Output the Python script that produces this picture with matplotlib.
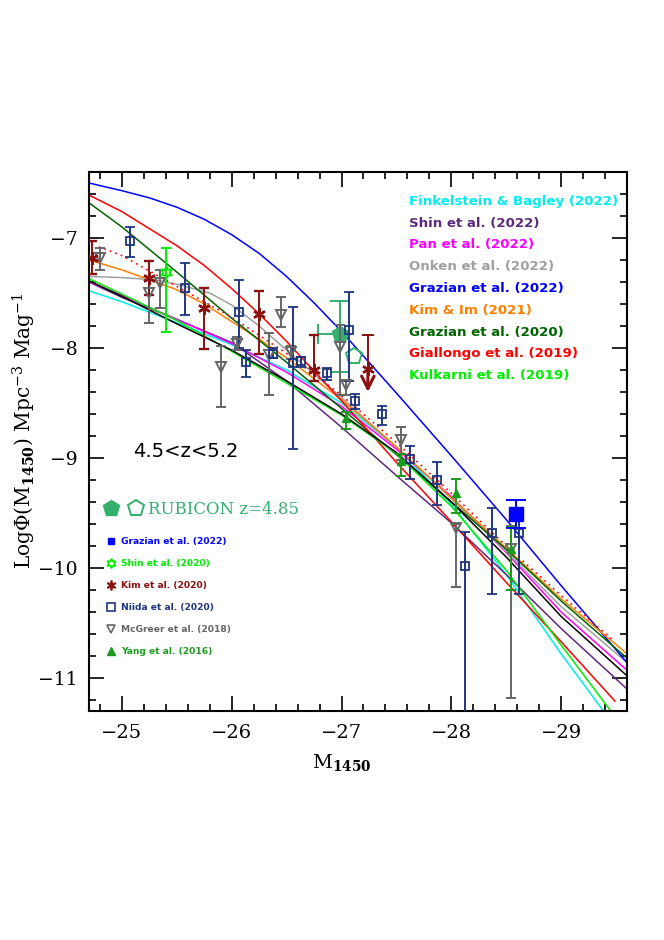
import numpy as np
import matplotlib
matplotlib.use("Agg")
import matplotlib.pyplot as plt
from matplotlib.ticker import MultipleLocator
from matplotlib.lines import Line2D
from matplotlib.legend_handler import HandlerTuple

plt.rcParams['mathtext.fontset'] = 'dejavuserif'

# ---- model curves ----
fink_M = [-24.7, -25.0, -25.5, -26.0, -26.5, -27.0, -27.5, -28.0, -28.5, -29.0, -29.40]
fink_phi = [-7.48, -7.58, -7.77, -7.97, -8.20, -8.50, -8.90, -9.42, -10.06, -10.78, -11.32]

shin22_M = [-24.7, -25.0, -25.5, -26.0, -26.5, -27.0, -27.5, -28.0, -28.5, -29.0, -29.6]
shin22_phi = [-7.40, -7.54, -7.74, -7.95, -8.30, -8.72, -9.16, -9.59, -10.06, -10.55, -11.10]

pan_M = [-24.7, -25.0, -25.5, -26.0, -26.5, -27.0, -27.5, -28.0, -28.5, -29.0, -29.6]
pan_phi = [-7.40, -7.52, -7.74, -7.96, -8.22, -8.53, -8.92, -9.35, -9.86, -10.40, -10.93]

onken_M = [-24.7, -25.0, -25.3, -25.5, -25.8, -26.0, -26.25, -26.5, -27.0, -27.5, -28.0,
           -28.5, -29.0, -29.6]
onken_phi = [-7.35, -7.36, -7.38, -7.42, -7.50, -7.61, -7.80, -8.02, -8.45, -8.90, -9.37,
             -9.85, -10.35, -10.86]

graz22_M = [-24.7, -25.0, -25.25, -25.5, -25.75, -26.0, -26.25, -26.5, -26.75, -27.0,
            -27.25, -27.5, -28.0, -28.5, -29.0, -29.6]
graz22_phi = [-6.50, -6.57, -6.635, -6.72, -6.83, -6.97, -7.14, -7.35, -7.59, -7.85,
              -8.13, -8.41, -8.98, -9.56, -10.16, -10.86]

kimim_M = [-24.7, -25.0, -25.5, -25.75, -26.0, -26.25, -26.5, -27.0, -27.5, -28.0, -28.5,
           -29.0, -29.6]
kimim_phi = [-7.20, -7.29, -7.47, -7.60, -7.76, -7.92, -8.09, -8.47, -8.90, -9.36, -9.82,
             -10.28, -10.78]

graz20_M = [-24.7, -25.0, -25.5, -26.0, -26.5, -27.0, -27.5, -28.0, -28.5, -29.0, -29.6]
graz20_phi = [-6.68, -6.90, -7.31, -7.73, -8.13, -8.55, -8.97, -9.40, -9.83, -10.30, -10.82]

gial_M = [-24.7, -25.0, -25.5, -25.75, -26.0, -26.25, -26.5, -27.0, -27.5, -28.0, -28.5,
          -29.0, -29.49]
gial_phi = [-6.61, -6.76, -7.07, -7.25, -7.46, -7.69, -7.94, -8.48, -9.04, -9.58, -10.13,
            -10.67, -11.21]

kulk_M = [-24.7, -25.0, -25.5, -26.0, -26.5, -27.0, -27.5, -28.0, -28.5, -29.0, -29.46]
kulk_phi = [-7.37, -7.51, -7.75, -8.03, -8.32, -8.61, -8.96, -9.44, -10.02, -10.70, -11.31]

black_M = [-24.7, -25.0, -25.5, -26.0, -26.5, -27.0, -27.5, -28.0, -28.5, -29.0, -29.6]
black_phi = [-7.39, -7.53, -7.78, -8.02, -8.30, -8.60, -8.95, -9.40, -9.90, -10.44, -10.98]

dotted_M = [-24.79, -25.0, -25.5, -26.0, -26.5, -27.0, -27.5, -28.0, -28.5, -29.0, -29.49]
dotted_phi = [-7.08, -7.16, -7.44, -7.72, -8.05, -8.43, -8.86, -9.32, -9.80, -10.25, -10.67]

# ---- data points ----
niida_M = [-25.07, -25.57, -26.07, -26.13, -26.38, -26.56, -26.63, -26.87, -27.07, -27.12,
           -27.37, -27.62, -27.87, -28.12, -28.37, -28.62]
niida_phi = [-7.03, -7.45, -7.67, -8.13, -8.05, -8.14, -8.12, -8.23, -7.84, -8.48,
             -8.60, -9.01, -9.20, -9.98, -9.68, -9.68]
niida_hi = [-6.90, -7.23, -7.38, -8.02, -8.00, -7.63, -8.08, -8.18, -7.49, -8.42,
            -8.53, -8.89, -9.04, -9.67, -9.45, -9.45]
niida_lo = [-7.17, -7.70, -8.00, -8.26, -8.09, -8.92, -8.17, -8.29, -8.30, -8.55,
            -8.70, -9.19, -9.43, -12.0, -10.24, -10.24]

kim_M = [-24.73, -25.25, -25.75, -26.25, -26.75]
kim_phi = [-7.18, -7.36, -7.64, -7.69, -8.20]
kim_hi = [-7.03, -7.21, -7.45, -7.48, -7.88]
kim_lo = [-7.33, -7.52, -8.01, -8.05, -8.30]
kim_lim_M, kim_lim_phi, kim_lim_hi, kim_lim_tip = -27.24, -8.19, -7.88, -8.40

mcg_M = [-24.80, -25.25, -25.35, -25.90, -26.05, -26.34, -26.45, -26.54, -26.99, -27.04,
         -27.54, -28.04, -28.54]
mcg_phi = [-7.18, -7.50, -7.41, -8.17, -7.96, -8.06, -7.70, -8.04, -7.99, -8.34,
           -8.84, -9.64, -9.83]
mcg_hi = [-7.09, -7.38, -7.29, -7.98, -7.90, -7.86, -7.54, -7.98, -7.79, -8.30,
          -8.72, -9.60, -9.62]
mcg_lo = [-7.29, -7.77, -7.64, -8.54, -8.02, -8.43, -7.81, -8.10, -8.43, -8.43,
          -9.02, -10.17, -11.18]

yang_M = [-27.04, -27.54, -28.04, -28.54]
yang_phi = [-8.64, -9.03, -9.32, -9.83]
yang_hi = [-8.58, -8.96, -9.19, -9.63]
yang_lo = [-8.74, -9.16, -9.50, -10.20]

shin20_M, shin20_phi, shin20_hi, shin20_lo = [-25.40], [-7.31], [-7.09], [-7.85]
graz22pt_M, graz22pt_phi, graz22pt_hi, graz22pt_lo = [-28.59], [-9.51], [-9.38], [-9.64]

rub_M, rub_phi, rub_hi, rub_lo, rub_bright = [-26.99], [-7.87], [-7.57], [-8.22], [-27.19]
rub_open_M, rub_open_phi = [-27.11], [-8.07]

# colours
C_FINK = '#00eeee'
C_SHIN22 = '#5e2a7e'
C_PAN = '#ff00ff'
C_ONKEN = '#a0a0a0'
C_GRAZ22 = '#0000ff'
C_KIMIM = '#ff7f00'
C_GRAZ20 = '#006400'
C_GIAL = '#ff0000'
C_KULK = '#00ee00'
C_NIIDA = '#1f3580'
C_KIM = '#8b1010'
C_MCG = '#666666'
C_YANG = '#1e9a1e'
C_RUB = '#33b06e'


def yerr(phi, hi, lo):
    phi, hi, lo = np.array(phi), np.array(hi), np.array(lo)
    return [phi - lo, hi - phi]


fig = plt.figure(figsize=(6.64, 9.40), dpi=100)
ax = fig.add_axes([89 / 664, 1 - 711 / 940, 538 / 664, 539 / 940])

lw = 1.1
curves = [
    (fink_M, fink_phi, C_FINK, 'Finkelstein & Bagley (2022)'),
    (shin22_M, shin22_phi, C_SHIN22, 'Shin et al. (2022)'),
    (pan_M, pan_phi, C_PAN, 'Pan et al. (2022)'),
    (onken_M, onken_phi, C_ONKEN, 'Onken et al. (2022)'),
    (graz22_M, graz22_phi, C_GRAZ22, 'Grazian et al. (2022)'),
    (kimim_M, kimim_phi, C_KIMIM, 'Kim & Im (2021)'),
    (graz20_M, graz20_phi, C_GRAZ20, 'Grazian et al. (2020)'),
    (gial_M, gial_phi, C_GIAL, 'Giallongo et al. (2019)'),
    (kulk_M, kulk_phi, C_KULK, 'Kulkarni et al. (2019)'),
]
curve_handles = []
for M, phi, c, lab in curves:
    h, = ax.plot(M, phi, color=c, lw=lw, label=lab, zorder=2)
    curve_handles.append(h)
ax.plot(black_M, black_phi, color='black', lw=lw, zorder=2)
ax.plot(dotted_M, dotted_phi, color='red', lw=1.2, ls=(0, (1, 2.5)), zorder=2)

# data points
eb = dict(ls='none', capsize=3.5, elinewidth=1.4, capthick=1.4, zorder=4)
ax.errorbar(mcg_M, mcg_phi, yerr=yerr(mcg_phi, mcg_hi, mcg_lo), color=C_MCG,
            marker='v', ms=7, mfc='none', mec=C_MCG, mew=1.4, **eb)
ax.errorbar(niida_M, niida_phi, yerr=yerr(niida_phi, niida_hi, niida_lo), color=C_NIIDA,
            marker='s', ms=6, mfc='none', mec=C_NIIDA, mew=1.3, **eb)
ax.errorbar(kim_M, kim_phi, yerr=yerr(kim_phi, kim_hi, kim_lo), color=C_KIM,
            marker=(6, 2, 0), ms=9, mec=C_KIM, mew=1.7, **eb)
ax.errorbar(yang_M, yang_phi, yerr=yerr(yang_phi, yang_hi, yang_lo), color=C_YANG,
            marker='^', ms=6, **eb)
ax.errorbar(shin20_M, shin20_phi, yerr=yerr(shin20_phi, shin20_hi, shin20_lo), color=C_KULK,
            marker=(6, 1, 0), ms=9, mfc='none', mec=C_KULK, mew=1.4, **eb)
ax.errorbar(graz22pt_M, graz22pt_phi, yerr=yerr(graz22pt_phi, graz22pt_hi, graz22pt_lo),
            color=C_GRAZ22, marker='s', ms=10, ls='none', capsize=7, elinewidth=1.4,
            capthick=1.4, zorder=5)

# Kim et al. upper limit
ax.plot([kim_lim_M, kim_lim_M], [kim_lim_hi, kim_lim_phi], color=C_KIM, lw=1.4, zorder=4)
ax.plot([kim_lim_M], [kim_lim_hi], marker='_', ms=8, mew=1.4, color=C_KIM, zorder=4)
ax.plot(kim_lim_M, kim_lim_phi, marker=(6, 2, 0), ms=9, mew=1.7, color=C_KIM, zorder=4)
ax.annotate('', xy=(kim_lim_M, kim_lim_tip), xytext=(kim_lim_M, kim_lim_phi),
            arrowprops=dict(arrowstyle='->, head_length=0.9, head_width=0.45',
                            color=C_KIM, lw=2.2, shrinkA=0, shrinkB=0), zorder=4)

# RUBICON
ax.errorbar(rub_M, rub_phi, yerr=yerr(rub_phi, rub_hi, rub_lo),
            xerr=[[0], [rub_M[0] - rub_bright[0]]], color=C_RUB, marker='p', ms=12,
            ls='none', capsize=7, elinewidth=1.4, capthick=1.4, zorder=3)
ax.plot(rub_open_M, rub_open_phi, marker='p', ms=12, mfc='none', mec=C_RUB, mew=1.4,
        ls='none', zorder=3)

ax.set_xlim(-24.7, -29.6)
ax.set_ylim(-11.3, -6.4)
ax.xaxis.set_major_locator(MultipleLocator(1))
ax.xaxis.set_minor_locator(MultipleLocator(0.2))
ax.yaxis.set_major_locator(MultipleLocator(1))
ax.yaxis.set_minor_locator(MultipleLocator(0.2))
ax.tick_params(which='both', direction='in', top=True, right=True, width=1.2)
ax.tick_params(which='major', length=10.5)
ax.tick_params(which='minor', length=5)
ax.tick_params(axis='x', which='major', pad=9)
ax.tick_params(axis='y', which='major', pad=8)
for lab in ax.get_xticklabels() + ax.get_yticklabels():
    lab.set_fontfamily('DejaVu Serif')
    lab.set_fontsize(14)
for lab in ax.get_yticklabels():
    lab.set_fontsize(13.5)
for s in ax.spines.values():
    s.set_linewidth(1.5)

ax.set_xlabel(r'M$_{\mathbf{1450}}$', fontsize=14, family='DejaVu Serif')
ax.xaxis.set_label_coords(0.47, -0.076)
ax.set_ylabel(r'Log$\Phi$(M$_{\mathbf{1450}}$) Mpc$^{-3}$ Mag$^{-1}$', fontsize=14.5,
              family='DejaVu Serif', va='center')
ax.yaxis.set_label_coords(-0.121, 0.52)

# model legend (coloured text only)
leg1 = ax.legend(handles=curve_handles, loc='upper right', bbox_to_anchor=(1.0, 0.975),
                 frameon=False, handlelength=0, handletextpad=0, labelcolor='linecolor',
                 prop={'size': 9.6, 'weight': 'bold'}, labelspacing=0.66,
                 borderaxespad=0.3)
for h in leg1.legend_handles:
    h.set_visible(False)
ax.add_artist(leg1)

ax.text(0.081, 0.472, '4.5<z<5.2', transform=ax.transAxes, fontsize=14, color='black',
        family='DejaVu Sans')

rub_fill = Line2D([], [], marker='p', ms=12, color=C_RUB, ls='none')
rub_open = Line2D([], [], marker='p', ms=12, mfc='none', mec=C_RUB, mew=1.4, ls='none')
leg2 = ax.legend(handles=[(rub_fill, rub_open)], labels=['RUBICON z=4.85'],
                 handler_map={tuple: HandlerTuple(ndivide=None, pad=0.6)},
                 loc='upper left', bbox_to_anchor=(0.005, 0.412), frameon=False,
                 handlelength=2.4, handletextpad=0.3, borderaxespad=0.3,
                 prop={'family': 'DejaVu Serif', 'size': 12})
for t in leg2.get_texts():
    t.set_color(C_RUB)
ax.add_artist(leg2)

pt_handles = [
    Line2D([], [], marker='s', ms=5, color=C_GRAZ22, ls='none'),
    Line2D([], [], marker=(6, 1, 0), ms=7, mfc='none', mec=C_KULK, mew=1.2, ls='none'),
    Line2D([], [], marker=(6, 2, 0), ms=7, mec=C_KIM, mew=1.3, ls='none'),
    Line2D([], [], marker='s', ms=5.5, mfc='none', mec=C_NIIDA, mew=1.2, ls='none'),
    Line2D([], [], marker='v', ms=6, mfc='none', mec=C_MCG, mew=1.2, ls='none'),
    Line2D([], [], marker='^', ms=6, color=C_YANG, ls='none'),
]
pt_labels = ['Grazian et al. (2022)', 'Shin et al. (2020)', 'Kim et al. (2020)',
             'Niida et al. (2020)', 'McGreer et al. (2018)', 'Yang et al. (2016)']
pt_colors = [C_GRAZ22, C_KULK, C_KIM, C_NIIDA, C_MCG, C_YANG]
leg3 = ax.legend(pt_handles, pt_labels, loc='upper left', bbox_to_anchor=(0.023, 0.335),
                 frameon=False, handlelength=0.8, handletextpad=0.6, labelspacing=1.42,
                 prop={'size': 6.6, 'weight': 'bold'}, borderaxespad=0.3)
for t, c in zip(leg3.get_texts(), pt_colors):
    t.set_color(c)

fig.savefig('out.png', dpi=100)
